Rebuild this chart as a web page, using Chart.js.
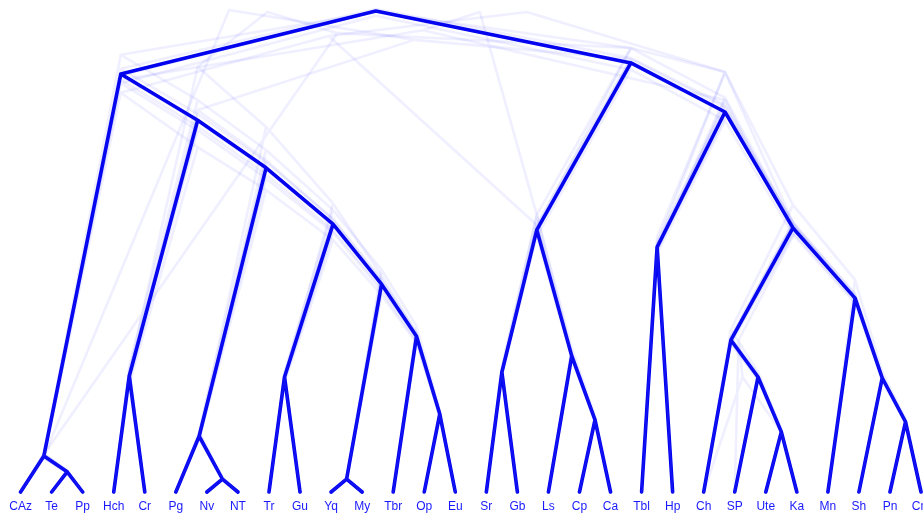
<!DOCTYPE html>
<html>
<head>
<meta charset="utf-8">
<script src="https://cdn.jsdelivr.net/npm/chart.js@4/dist/chart.umd.min.js"></script>
<style>
  html, body { margin: 0; padding: 0; background: #ffffff; }
  #wrap { width: 923px; height: 514px; }
</style>
</head>
<body>
<div id="wrap"><canvas id="tree" width="923" height="514"></canvas></div>
<script>
// Tip order along the bottom axis
const tipLabels = ["CAz","Te","Pp","Hch","Cr","Pg","Nv","NT","Tr","Gu","Yq","My","Tbr","Op","Eu",
                   "Sr","Gb","Ls","Cp","Ca","Tbl","Hp","Ch","SP","Ute","Ka","Mn","Sh","Pn","Cm"];

// Trees as nested [height, child, child]; heights relative to the consensus root (tips = 0)
const consensusTree =
  [1.000,
    [0.869,
      [0.075, "CAz", [0.042, "Te", "Pp"]],
      [0.773,
        [0.241, "Hch", "Cr"],
        [0.674,
          [0.116, "Pg", [0.027, "Nv", "NT"]],
          [0.557,
            [0.239, "Tr", "Gu"],
            [0.432,
              [0.027, "Yq", "My"],
              [0.324, "Tbr", [0.162, "Op", "Eu"]]]]]]],
    [0.892,
      [0.545,
        [0.249, "Sr", "Gb"],
        [0.283, "Ls", [0.150, "Cp", "Ca"]]],
      [0.790,
        [0.509, "Tbl", "Hp"],
        [0.549,
          [0.316, "Ch", [0.239, "SP", [0.125, "Ute", "Ka"]]],
          [0.403, "Mn", [0.237, "Sh", [0.146, "Pn", "Cm"]]]]]]];

// Posterior sample trees drawn underneath
const sampleTree1 =
  [0.998,
    [0.909,
      [0.080, "CAz", [0.045, "Te", "Pp"]],
      [0.815,
        [0.262, "Hch", "Cr"],
        [0.711,
          [0.125, "Pg", [0.030, "Nv", "NT"]],
          [0.586,
            [0.250, "Tr", "Gu"],
            [0.462, [0.030, "Yq", "My"], [0.345, "Tbr", [0.170, "Op", "Eu"]]]]]]],
    [0.923,
      [0.576, [0.262, "Sr", "Gb"], [0.300, "Ls", [0.158, "Cp", "Ca"]]],
      [0.873,
        [0.530, "Tbl", "Hp"],
        [0.597,
          [0.337, "Ch", [0.250, "SP", [0.132, "Ute", "Ka"]]],
          [0.441, "Mn", [0.250, "Sh", [0.152, "Pn", "Cm"]]]]]]];

const sampleTree2 =
  [0.998,
    [0.948,
      [0.830,
        [0.070, "CAz", [0.040, "Te", "Pp"]],
        [0.717,
          [0.225, "Hch", "Cr"],
          [0.628,
            [0.110, "Pg", [0.025, "Nv", "NT"]],
            [0.524,
              [0.228, "Tr", "Gu"],
              [0.410, [0.026, "Yq", "My"], [0.310, "Tbr", [0.155, "Op", "Eu"]]]]]]],
      [0.555, [0.245, "Sr", "Gb"], [0.278, "Ls", [0.146, "Cp", "Ca"]]]],
    [0.873,
      [0.515, "Tbl", "Hp"],
      [0.560,
        [0.320, "Ch", [0.242, "SP", [0.127, "Ute", "Ka"]]],
        [0.410, "Mn", [0.240, "Sh", [0.148, "Pn", "Cm"]]]]]];

const sampleTree3 =
  [0.998,
    [0.960,
      [0.857,
        [0.076, "CAz", [0.043, "Te", "Pp"]],
        [0.760,
          [0.245, "Hch", "Cr"],
          [0.660,
            [0.118, "Pg", [0.028, "Nv", "NT"]],
            [0.545,
              [0.236, "Tr", "Gu"],
              [0.425, [0.028, "Yq", "My"], [0.320, "Tbr", [0.160, "Op", "Eu"]]]]]]],
      [0.815,
        [0.500, "Tbl", "Hp"],
        [0.540,
          [0.312, "Ch", [0.236, "SP", [0.124, "Ute", "Ka"]]],
          [0.398, "Mn", [0.235, "Sh", [0.145, "Pn", "Cm"]]]]]],
    [0.576, [0.252, "Sr", "Gb"], [0.288, "Ls", [0.152, "Cp", "Ca"]]]];

const sampleTree4 =
  [0.998,
    [0.884,
      [0.250, "Hch", "Cr"],
      [0.759,
        [0.120, "Pg", [0.028, "Nv", "NT"]],
        [0.600,
          [0.242, "Tr", "Gu"],
          [0.450, [0.028, "Yq", "My"], [0.330, "Tbr", [0.165, "Op", "Eu"]]]]]],
    [0.954,
      [0.078, "CAz", [0.043, "Te", "Pp"]],
      [0.923,
        [0.550, [0.250, "Sr", "Gb"], [0.285, "Ls", [0.150, "Cp", "Ca"]]],
        [0.820,
          [0.510, "Tbl", "Hp"],
          [0.555,
            [0.318, "Ch", [0.240, "SP", [0.126, "Ute", "Ka"]]],
            [0.405, "Mn", [0.238, "Sh", [0.147, "Pn", "Cm"]]]]]]]];

const sampleTree5 =
  [1.002,
    [0.074, "CAz", [0.041, "Te", "Pp"]],
    [0.940,
      [0.794,
        [0.244, "Hch", "Cr"],
        [0.690,
          [0.118, "Pg", [0.027, "Nv", "NT"]],
          [0.566,
            [0.240, "Tr", "Gu"],
            [0.438, [0.027, "Yq", "My"], [0.326, "Tbr", [0.163, "Op", "Eu"]]]]]],
      [0.900,
        [0.548, [0.249, "Sr", "Gb"], [0.283, "Ls", [0.150, "Cp", "Ca"]]],
        [0.800,
          [0.512, "Tbl", "Hp"],
          [0.552,
            [0.316, "Ch", [0.239, "SP", [0.125, "Ute", "Ka"]]],
            [0.404, "Mn", [0.237, "Sh", [0.146, "Pn", "Cm"]]]]]]]];

const sampleTree6 =
  [1.000,
    [0.866,
      [0.075, "CAz", [0.042, "Te", "Pp"]],
      [0.770,
        [0.240, "Hch", "Cr"],
        [0.670,
          [0.116, "Pg", [0.027, "Nv", "NT"]],
          [0.555,
            [0.239, "Tr", "Gu"],
            [0.430, [0.027, "Yq", "My"], [0.324, "Tbr", [0.162, "Op", "Eu"]]]]]]],
    [0.890,
      [0.543, [0.249, "Sr", "Gb"], [0.283, "Ls", [0.150, "Cp", "Ca"]]],
      [0.786,
        [0.507, "Tbl", "Hp"],
        [0.547,
          [0.316, "SP", [0.239, "Ch", [0.125, "Ute", "Ka"]]],
          [0.403, "Mn", [0.237, "Sh", [0.146, "Pn", "Cm"]]]]]]];

const sampleTree7 =
  [0.990,
    [0.850,
      [0.072, "CAz", [0.040, "Te", "Pp"]],
      [0.752,
        [0.232, "Hch", "Cr"],
        [0.652,
          [0.112, "Pg", [0.026, "Nv", "NT"]],
          [0.540,
            [0.232, "Tr", "Gu"],
            [0.418, [0.026, "Yq", "My"], [0.314, "Tbr", [0.157, "Op", "Eu"]]]]]]],
    [0.878,
      [0.532, [0.243, "Sr", "Gb"], [0.276, "Ls", [0.146, "Cp", "Ca"]]],
      [0.772,
        [0.497, "Tbl", "Hp"],
        [0.535,
          [0.308, "Ch", [0.233, "SP", [0.122, "Ute", "Ka"]]],
          [0.393, "Mn", [0.231, "Sh", [0.142, "Pn", "Cm"]]]]]]];

const sampleTree8 =
  [1.004,
    [0.880,
      [0.078, "CAz", [0.044, "Te", "Pp"]],
      [0.786,
        [0.248, "Hch", "Cr"],
        [0.686,
          [0.119, "Pg", [0.028, "Nv", "NT"]],
          [0.568,
            [0.244, "Tr", "Gu"],
            [0.442, [0.028, "Yq", "My"], [0.331, "Tbr", [0.166, "Op", "Eu"]]]]]]],
    [0.902,
      [0.556, [0.254, "Sr", "Gb"], [0.289, "Ls", [0.153, "Cp", "Ca"]]],
      [0.805,
        [0.520, "Tbl", "Hp"],
        [0.560,
          [0.323, "Ch", [0.244, "SP", [0.128, "Ute", "Ka"]]],
          [0.412, "Mn", [0.242, "Sh", [0.149, "Pn", "Cm"]]]]]]];

const sampleTrees = [sampleTree1, sampleTree2, sampleTree3, sampleTree4,
                     sampleTree5, sampleTree6, sampleTree7, sampleTree8];

// Each internal node becomes a "V": left child -> node -> right child, then a gap.
// A node sits halfway between its two children along the tip axis.
function treeSegments(tree) {
  const pts = [];
  (function walk(node) {
    if (typeof node === 'string') return { x: tipLabels.indexOf(node), y: 0 };
    const [h, a, b] = node;
    const pa = walk(a), pb = walk(b);
    const p = { x: (pa.x + pb.x) / 2, y: h };
    pts.push(pa, p, pb, { x: p.x, y: null });
    return p;
  })(tree);
  return pts;
}

function treeDataset(tree, color, width) {
  return {
    data: treeSegments(tree),
    showLine: true,
    spanGaps: false,
    borderColor: color,
    borderWidth: width,
    borderCapStyle: 'round',
    borderJoinStyle: 'round',
    pointRadius: 0,
    pointHoverRadius: 0,
    tension: 0,
    clip: false
  };
}

const datasets = sampleTrees.map(t => treeDataset(t, 'rgba(40,40,255,0.075)', 2.6));
datasets.push(treeDataset(consensusTree, 'rgb(0,0,238)', 3.6));

new Chart(document.getElementById('tree'), {
  type: 'scatter',
  data: { datasets },
  options: {
    responsive: false,
    animation: false,
    devicePixelRatio: 1,
    events: [],
    layout: { padding: 0, autoPadding: false },
    plugins: { legend: { display: false }, tooltip: { enabled: false } },
    scales: {
      x: {
        type: 'linear',
        position: 'bottom',
        min: -0.663,
        max: 29.063,
        bounds: 'data',
        grid: { display: false, drawTicks: false },
        border: { display: false },
        afterBuildTicks: (scale) => { scale.ticks = tipLabels.map((_, i) => ({ value: i })); },
        afterFit: (scale) => { scale.paddingLeft = 0; scale.paddingRight = 0; scale.height = 22; },
        ticks: {
          autoSkip: false,
          maxRotation: 0,
          minRotation: 0,
          padding: 7.5,
          color: 'rgb(25,25,255)',
          font: { family: '"Liberation Sans", Arial, Helvetica, sans-serif', size: 12 },
          callback: (value, index) => tipLabels[index]
        }
      },
      y: {
        type: 'linear',
        display: false,
        min: 0,
        max: 1.0229,
        bounds: 'data'
      }
    }
  }
});
</script>
</body>
</html>
